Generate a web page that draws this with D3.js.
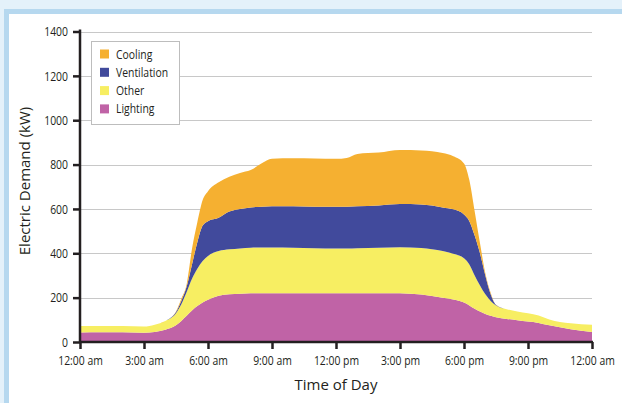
<!DOCTYPE html>
<html><head><meta charset="utf-8">
<script src="https://cdn.jsdelivr.net/npm/d3@7"></script>
<style>
html,body{margin:0;padding:0;background:#e4f1fa;}
svg{display:block;}
.tick-lab{font-family:"Open Sans","Noto Sans",sans-serif;font-size:13px;fill:#231f20;}
.title{font-family:"Open Sans","Noto Sans",sans-serif;font-size:15px;fill:#231f20;}
</style></head>
<body>
<svg id="c" width="622" height="403"></svg>
<script>
const hours = [0,1,2,3,3.5,4,4.5,4.75,5,5.25,5.5,5.75,6,6.5,7,7.5,8,8.5,9,10,11,12,12.5,13,14,15,16,17,17.5,18,18.25,18.5,18.75,19,19.25,19.5,20,20.5,21,21.5,22,23,24];
const lighting = [43,44,44,42,45,55,75,95,118,142,162,178,190,208,215,218,220,220,220,220,220,220,220,220,220,220,214,200,192,178,165,150,137,126,118,112,104,98,92,86,75,58,45];
const other = [29,28,28,28,33,40,55,75,107,143,168,187,198,202,203,204,205,206,206,205,203,202,202,203,205,207,210,210,206,200,185,150,118,89,67,53,44,40,38,34,27,26,33];
const ventilation = [0,0,0,0,0,0,5,15,25,65,120,160,157,150,170,178,182,184,186,187,187,188,188,189,191,195,196,197,200,197,195,180,145,85,30,2,0,0,0,0,0,0,0];
const cooling = [0,0,0,0,0,0,3,10,10,70,90,115,135,160,157,162,168,195,214,216,217,216,220,236,238,244,244,245,240,230,185,110,45,10,7,1,0,0,0,0,0,0,0];
const seriesNames = ["Lighting","Other","Ventilation","Cooling"];
const seriesColors = ["#c063a6","#f7ee62","#414a9c","#f5b031"];
const legendOrder = ["Cooling","Ventilation","Other","Lighting"];
const yTicks = [0,200,400,600,800,1000,1200,1400];
const xTickHours = [0,3,6,9,12,15,18,21,24];
const xTickLabels = ["12:00 am","3:00 am","6:00 am","9:00 am","12:00 pm","3:00 pm","6:00 pm","9:00 pm","12:00 am"];

const SX = 0.8; // condensed look
const svg = d3.select("#c");
// frame
svg.append("rect").attr("x",0).attr("y",0).attr("width",622).attr("height",403).attr("fill","#e4f1fa");
svg.append("rect").attr("x",4).attr("y",9).attr("width",618).attr("height",394).attr("fill","#b6d8ef");
svg.append("rect").attr("x",9).attr("y",14).attr("width",613).attr("height",389).attr("fill","#ffffff");

const x = d3.scaleLinear().domain([0,24]).range([80,592]);
const y = d3.scaleLinear().domain([0,1400]).range([342,31.5]);

// grid
svg.append("g").selectAll("line").data(yTicks.filter(d=>d>0)).join("line")
  .attr("x1",80).attr("x2",592).attr("y1",d=>Math.round(y(d))+0.5).attr("y2",d=>Math.round(y(d))+0.5)
  .attr("stroke","#c8c8c8").attr("stroke-width",1);

const table = hours.map((h,i)=>({h, Lighting:lighting[i], Other:other[i], Ventilation:ventilation[i], Cooling:cooling[i]}));
const stack = d3.stack().keys(seriesNames)(table);
const area = d3.area().x(d=>x(d.data.h)).y0(d=>y(d[0])).y1(d=>y(d[1])).curve(d3.curveMonotoneX);
svg.append("g").selectAll("path").data(stack).join("path")
  .attr("d",area).attr("fill",(d,i)=>seriesColors[i]);

// axes
const yAxis = d3.axisLeft(y).tickValues(yTicks).tickSize(7).tickPadding(5).tickFormat(d3.format("d"));
const gy = svg.append("g").attr("transform","translate(80,0)").call(yAxis);
const xAxis = d3.axisBottom(x).tickValues(xTickHours).tickSize(7).tickPadding(7).tickFormat((d,i)=>xTickLabels[i]);
const gx = svg.append("g").attr("transform","translate(0,342)").call(xAxis);
[gx,gy].forEach(g=>{
  g.select(".domain").attr("stroke","#231f20").attr("stroke-width",2.5);
  g.selectAll(".tick line").attr("stroke","#231f20").attr("stroke-width",2.5);
  g.selectAll(".tick text").attr("class","tick-lab").attr("fill","#231f20");
});
gy.selectAll(".tick text").attr("x",-12/SX).attr("transform",`scale(${SX},1)`);
gx.selectAll(".tick text").attr("transform",`scale(${SX},1)`);
gy.select(".domain").attr("d","M0,29.5V343");
gx.select(".domain").attr("d","M79,0H593");

svg.append("text").attr("class","title").attr("text-anchor","middle")
  .attr("transform","translate(30,181) rotate(-90)").text("Electric Demand (kW)");
svg.append("text").attr("class","title").attr("text-anchor","middle")
  .attr("x",336).attr("y",390).text("Time of Day");

// legend
const lg = svg.append("g");
lg.append("rect").attr("x",91.5).attr("y",41.5).attr("width",88).attr("height",83)
  .attr("fill","#fff").attr("stroke","#bdbdbd").attr("stroke-width",1);
const items = lg.selectAll("g.it").data(legendOrder).join("g").attr("class","it")
  .attr("transform",(d,i)=>`translate(100,${54+i*18.3})`);
items.append("rect").attr("x",0).attr("y",-4.5).attr("width",9).attr("height",9)
  .attr("fill",d=>seriesColors[seriesNames.indexOf(d)]);
items.append("text").attr("class","tick-lab").attr("x",16/SX).attr("y",4.5)
  .attr("transform",`scale(${SX},1)`).text(d=>d);
</script>
</body></html>
